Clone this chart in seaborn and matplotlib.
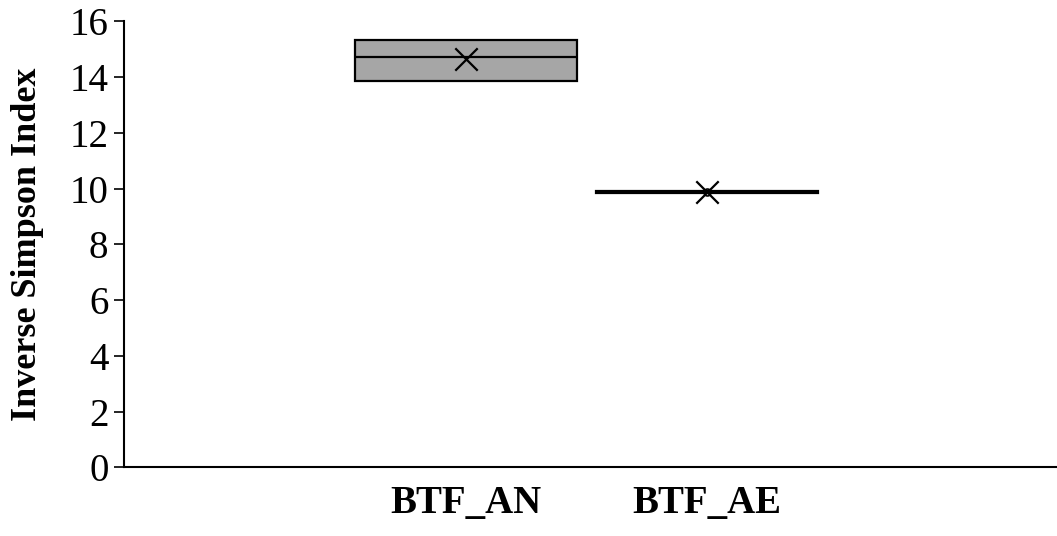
import matplotlib
matplotlib.use("Agg")
import matplotlib.pyplot as plt
import seaborn as sns
import pandas as pd
import numpy as np

categories = ["BTF_AN", "BTF_AE"]
values_an = [13.85, 14.71, 15.35]
values_ae = [9.83, 9.88, 9.93]
yticks = [0, 2, 4, 6, 8, 10, 12, 14, 16]

sns.set_theme(style="white")
plt.rcParams['font.family'] = ['Liberation Serif', 'DejaVu Serif']
plt.rcParams['text.color'] = 'black'
plt.rcParams['axes.labelcolor'] = 'black'
plt.rcParams['xtick.color'] = 'black'
plt.rcParams['ytick.color'] = 'black'

# Excel-style (exclusive) quartiles with 3 points: Q1=min, Q3=max
rows = []
for cat, vals in zip(categories, [values_an, values_ae]):
    v = sorted(vals)
    for x in [v[0], v[0], v[1], v[2], v[2]]:
        rows.append({"cat": cat, "val": x})
df = pd.DataFrame(rows)
means = pd.DataFrame({"cat": categories,
                      "val": [np.mean(values_an), np.mean(values_ae)]})

fig, ax = plt.subplots(figsize=(10.57, 5.36), dpi=100)
fig.subplots_adjust(left=0.117, right=1.0, top=0.96, bottom=0.128)

sns.boxplot(data=df, x="cat", y="val", order=categories, ax=ax,
            width=0.92, color="#A6A6A6", saturation=1,
            linewidth=1.6, linecolor="black", showfliers=False,
            whis=0, showcaps=False,
            medianprops=dict(color="black", linewidth=1.6))
sns.scatterplot(data=means, x="cat", y="val", marker="x", s=260,
                color="black", linewidth=1.6, ax=ax, zorder=5)
ax.plot([1], [values_ae[1]], marker="o", ms=5, mfc="none", mec="black",
        mew=1.2, zorder=6)

ax.set_xlim(-1.42, 2.45)
ax.set_ylim(0, 16)
ax.set_yticks(yticks)
ax.set_yticklabels([str(t) for t in yticks], fontsize=28)
ax.tick_params(axis="y", direction="out", length=7, width=1.2, left=True,
               color="black", pad=4)
ax.tick_params(axis="x", length=0, pad=13)
for lbl in ax.get_xticklabels():
    lbl.set_fontsize(28)
    lbl.set_fontweight("bold")
ax.set_xlabel("")
ax.set_ylabel("Inverse Simpson Index", fontsize=26, fontweight="bold",
              labelpad=18)
for s in ["top", "right"]:
    ax.spines[s].set_visible(False)
for s in ["left", "bottom"]:
    ax.spines[s].set_color("black")
    ax.spines[s].set_linewidth(1.5)

fig.savefig("out.png", dpi=100)
